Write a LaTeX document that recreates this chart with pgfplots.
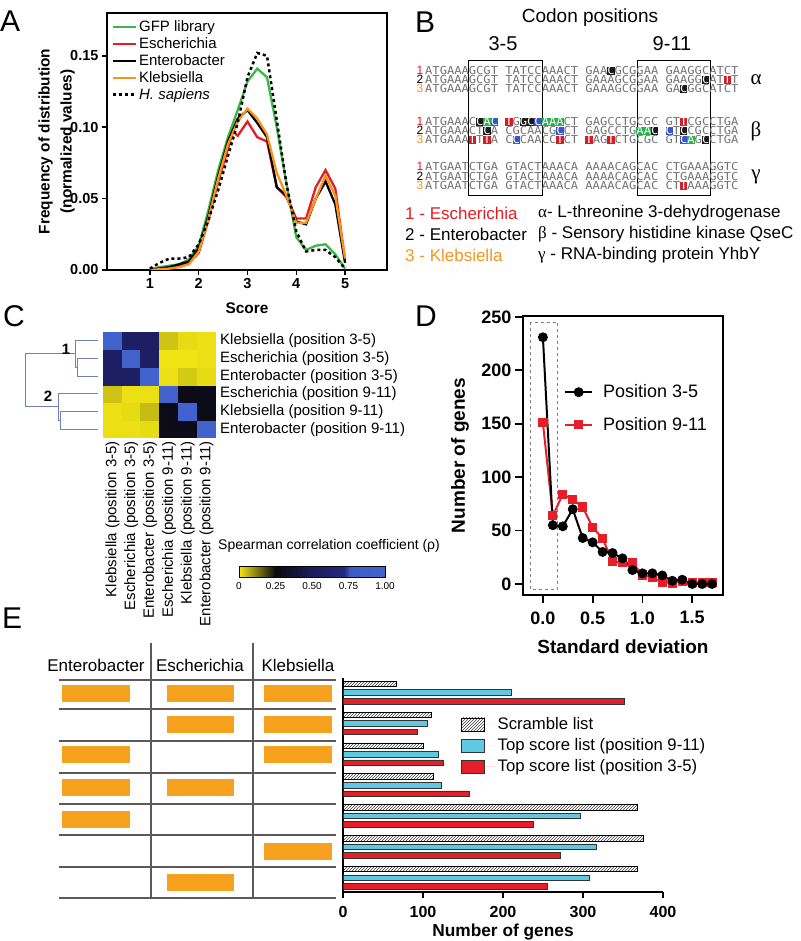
\documentclass[border=0pt]{standalone}
\usepackage{pgfplots}
\pgfplotsset{compat=1.18}
\usepackage{fontspec}
\setmainfont{Liberation Sans}
\newfontfamily\serifgreek{Liberation Serif}
\newfontfamily\seqfont[FakeStretch=1.1]{DejaVu Sans Mono}
\usetikzlibrary{patterns}
\newcommand\fs[2]{\fontsize{#1}{#2}\selectfont}
\definecolor{gfp}{RGB}{61,181,74}
\definecolor{esch}{RGB}{227,30,36}
\definecolor{kleb}{RGB}{247,148,29}
\definecolor{cyanbar}{RGB}{95,200,226}
\definecolor{redbar}{RGB}{230,30,40}
\definecolor{orangebox}{RGB}{247,162,30}
\definecolor{dendro}{RGB}{115,128,180}
\definecolor{seqgray}{RGB}{115,115,115}
\definecolor{hlblack}{RGB}{25,25,25}
\definecolor{hlgreen}{RGB}{40,175,80}
\definecolor{hlblue}{RGB}{55,85,195}
\definecolor{hlred}{RGB}{210,30,40}
\definecolor{tabline}{RGB}{90,90,90}
\newcommand\hl[2]{{\setlength{\fboxsep}{0pt}\colorbox{#1}{\rule[-0.4pt]{0pt}{8.3pt}\textcolor{white}{#2}}}}
\begin{document}
\begin{tikzpicture}
\useasboundingbox (0,0) rectangle (800pt,941pt);

% ---------------- Panel A ----------------
\begin{axis}[at={(107pt,671pt)}, anchor=south west, scale only axis,
  width=280pt, height=257pt,
  xmin=0.12, xmax=5.86, ymin=0, ymax=0.18,
  axis line style={line width=2.2pt},
  xtick={1,2,3,4,5}, ytick={0,0.05,0.1,0.15},
  yticklabels={0.00,0.05,0.10,0.15},
  tick align=outside, xtick pos=bottom, ytick pos=left,
  major tick length=5pt, tick style={line width=1.5pt, black},
  ticklabel style={font=\fs{14.5}{16}\bfseries},
  /pgf/number format/assume math mode=true,
  xlabel={Score}, ylabel={Frequency of distribution\\[3pt](normalized values)},
  label style={font=\fs{15.4}{19}\bfseries, align=center},
  xlabel style={at={(axis description cs:0.5,-0.148)}, anchor=center},
  ylabel style={at={(axis description cs:-0.18,0.5)}, anchor=center},
  legend style={at={(0.005,0.985)}, anchor=north west, draw=none, fill=none,
    font=\fs{15}{17}, row sep=0.5pt},
  legend cell align=left,
  legend image code/.code={\draw[#1] (0pt,0pt) -- (23pt,0pt);},
]
\addplot[gfp, line width=2.3pt] coordinates {(1,0.0005)(1.2,0.002)(1.4,0.003)(1.6,0.004)(1.8,0.0075)(2,0.017)(2.2,0.042)(2.4,0.07)(2.6,0.093)(2.8,0.112)(3,0.132)(3.2,0.141)(3.4,0.135)(3.6,0.1)(3.8,0.06)(4,0.023)(4.2,0.014)(4.4,0.017)(4.6,0.018)(4.8,0.011)(5,0.001)};
\addlegendentry{GFP library}
\addplot[esch, line width=2.3pt] coordinates {(1,0)(1.2,0.001)(1.4,0.002)(1.6,0.003)(1.8,0.005)(2,0.012)(2.2,0.035)(2.4,0.062)(2.6,0.085)(2.7,0.097)(2.8,0.094)(3,0.104)(3.2,0.093)(3.4,0.09)(3.6,0.058)(3.8,0.051)(4,0.036)(4.2,0.036)(4.4,0.058)(4.6,0.07)(4.8,0.057)(5,0.007)};
\addlegendentry{Escherichia}
\addplot[black, line width=2.3pt] coordinates {(1,0)(1.2,0.001)(1.4,0.002)(1.6,0.004)(1.8,0.006)(2,0.015)(2.2,0.038)(2.4,0.066)(2.6,0.09)(2.8,0.106)(3,0.112)(3.2,0.103)(3.4,0.093)(3.6,0.058)(3.8,0.052)(4,0.034)(4.2,0.032)(4.4,0.05)(4.6,0.062)(4.8,0.046)(5,0.005)};
\addlegendentry{Enterobacter}
\addplot[kleb, line width=2.3pt] coordinates {(1,0)(1.2,0.0005)(1.4,0.001)(1.6,0.002)(1.8,0.004)(2,0.013)(2.2,0.036)(2.4,0.064)(2.6,0.088)(2.8,0.104)(3,0.113)(3.2,0.106)(3.4,0.095)(3.6,0.068)(3.8,0.052)(4,0.033)(4.2,0.033)(4.4,0.05)(4.6,0.066)(4.8,0.052)(5,0.008)};
\addlegendentry{Klebsiella}
\addplot[black, line width=2.5pt, dash pattern=on 3pt off 3pt] coordinates {(1,0.001)(1.2,0.005)(1.4,0.008)(1.6,0.008)(1.8,0.009)(2,0.018)(2.2,0.035)(2.4,0.056)(2.6,0.08)(2.8,0.103)(3,0.135)(3.2,0.152)(3.4,0.15)(3.6,0.105)(3.8,0.06)(4,0.027)(4.2,0.013)(4.4,0.014)(4.6,0.014)(4.8,0.009)(5,0.001)};
\addlegendentry{\itshape H. sapiens}
\end{axis}

% ---------------- Panel C heatmap ----------------
\begin{axis}[at={(103pt,503pt)}, anchor=south west, scale only axis,
  width=113pt, height=106pt,
  xmin=-0.5, xmax=5.5, ymin=-0.5, ymax=5.5, hide axis,
  colormap={spear}{rgb255(0cm)=(245,232,20); rgb255(25cm)=(10,10,15); rgb255(50cm)=(28,28,92); rgb255(72cm)=(35,42,125); rgb255(76cm)=(62,92,200); rgb255(100cm)=(66,98,206)},
  point meta min=0, point meta max=1,
  colorbar horizontal,
  colorbar style={at={(parent axis.south west)}, anchor=north west,
    xshift=136pt, yshift=-120pt,
    scale only axis, width=146pt, height=11pt,
    xtick={0,0.25,0.5,0.75,1}, xticklabels={0,0.25,0.50,0.75,1.00},
    xticklabel style={font=\fs{10}{12}, yshift=-1pt}, major tick length=0pt,
    axis line style={line width=1pt}},
]
\addplot[matrix plot*, mesh/cols=6, point meta=explicit] table[meta=c] {
x y c
0 0 0.01
1 0 0.01
2 0 0.015
3 0 0.28
4 0 0.28
5 0 1
0 1 0.01
1 1 0.015
2 1 0.05
3 1 0.28
4 1 1
5 1 0.28
0 2 0.04
1 2 0.01
2 2 0.01
3 2 1
4 2 0.28
5 2 0.28
0 3 0.55
1 3 0.55
2 3 1
3 3 0.01
4 3 0.035
5 3 0.015
0 4 0.55
1 4 1
2 4 0.55
3 4 0.005
4 4 0.005
5 4 0.01
0 5 1
1 5 0.55
2 5 0.55
3 5 0.04
4 5 0.015
5 5 0.01
};
\end{axis}

% ---------------- Panel D ----------------
\begin{axis}[at={(523pt,346pt)}, anchor=south west, scale only axis,
  width=200pt, height=279pt,
  xmin=-0.2, xmax=1.81, ymin=-10.3, ymax=250.9,
  axis line style={line width=2.4pt},
  xtick={0,0.5,1,1.5}, xticklabels={0.0,0.5,1.0,1.5},
  ytick={0,50,100,150,200,250},
  tick align=outside, xtick pos=bottom, ytick pos=left,
  major tick length=8pt, tick style={line width=1.8pt, black},
  ticklabel style={font=\fs{18}{20}\bfseries},
  xticklabel style={yshift=-5pt},
  /pgf/number format/assume math mode=true,
  xlabel={Standard deviation}, ylabel={Number of genes},
  label style={font=\fs{19}{22}\bfseries},
  xlabel style={at={(axis description cs:0.5,-0.186)}, anchor=center},
  ylabel style={at={(axis description cs:-0.315,0.5)}, anchor=center},
  legend style={at={(0.19,0.768)}, anchor=north west, draw=none, fill=none,
    font=\fs{18}{21}, row sep=14pt},
  legend cell align=left, reverse legend,
  legend image code/.code={\draw[mark repeat=2, mark phase=2, #1] plot coordinates {(0pt,0pt) (13.5pt,0pt) (27pt,0pt)}; \path[draw=none] (0pt,0pt) -- (36pt,0pt);},
]
\draw[gray, dashed, line width=0.8pt] (axis cs:-0.13,245) rectangle (axis cs:0.15,-5);
\addplot[redbar, line width=2pt, mark=square*, mark size=3.6pt] coordinates {(0,151)(0.1,64)(0.2,84)(0.3,79)(0.4,72)(0.5,53)(0.6,42.5)(0.7,21)(0.8,20)(0.9,20)(1.0,8.5)(1.1,6)(1.2,1.5)(1.3,1)(1.4,2.5)(1.5,1.5)(1.6,1.5)(1.7,1.5)};
\addlegendentry{Position 9-11}
\addplot[black, line width=2pt, mark=*, mark size=3.9pt] coordinates {(0,231)(0.1,55)(0.2,54)(0.3,70)(0.4,43)(0.5,39)(0.6,30)(0.7,29)(0.8,24)(0.9,13)(1.0,10)(1.1,10)(1.2,8)(1.3,3)(1.4,4)(1.5,0)(1.6,0)(1.7,0)};
\addlegendentry{Position 3-5}
\end{axis}

% ---------------- Panel E bars ----------------
\begin{axis}[at={(343pt,49pt)}, anchor=south west, scale only axis,
  width=320pt, height=214pt,
  xmin=0, xmax=400, ymin=0.53, ymax=7.47,
  axis x line=bottom, axis y line=left, axis line style={line width=2.4pt, -},
  xtick={0,100,200,300,400}, ytick=\empty,
  tick align=outside, major tick length=6pt, tick style={line width=1.8pt, black},
  ticklabel style={font=\fs{16}{18}\bfseries},
  xticklabel style={yshift=-5pt},
  /pgf/number format/assume math mode=true,
  xlabel={Number of genes}, label style={font=\fs{17.3}{20}\bfseries},
  xlabel style={at={(axis description cs:0.5,-0.187)}, anchor=center},
  xbar, bar width=5.5pt, bar shift=0pt,
  legend style={at={(0.36,0.835)}, anchor=north west, draw=none, fill=none,
    font=\fs{16.7}{20}, row sep=3.5pt},
  legend cell align=left,
  legend image code/.code={\draw[#1] (0pt,-6.5pt) rectangle (23pt,6.5pt); \path[draw=none] (0pt,0pt) -- (34pt,0pt);},
]
\addplot[draw=black, line width=0.5pt, pattern=north east lines, pattern color=black!75] coordinates {(66,7.276)(110,6.276)(100,5.276)(113,4.276)(368,3.276)(375,2.276)(368,1.276)};
\addlegendentry{Scramble list}
\addplot[draw=black!80, line width=0.5pt, fill=cyanbar] coordinates {(210,7)(105,6)(119,5)(123,4)(296,3)(317,2)(307.5,1)};
\addlegendentry{Top score list (position 9-11)}
\addplot[draw=black!80, line width=0.5pt, fill=redbar] coordinates {(352,6.724)(92.5,5.724)(125,4.724)(157.5,3.724)(237.5,2.724)(271,1.724)(255,0.724)};
\addlegendentry{Top score list (position 3-5)}
\end{axis}

% ---------------- annotations in image coordinates ----------------
\begin{scope}[yshift=941pt, x=1pt, y=-1pt]
% panel letters
\foreach \L/\xx/\yy in {A/0/21, B/415/22, C/3/316, D/415/316, E/2/618}
  \node[anchor=west, inner sep=0pt, font=\fs{30}{34}] at (\xx,\yy) {\L};

% ---- Panel B ----
\node[font=\fs{19}{22}] at (590,18) {Codon positions};
\node[font=\fs{20}{22}] at (503,44) {3-5};
\node[font=\fs{20}{22}] at (672,44) {9-11};
\draw[line width=1pt] (468,61) rectangle (542,196);
\draw[line width=1pt] (637,61) rectangle (710,196);
\tikzset{seq/.style={anchor=base west, inner sep=0pt, font=\seqfont\fs{11}{11}, text=seqgray},
  num/.style={anchor=base east, inner sep=0pt, font=\fs{12}{12}}}
% alpha
\node[num, text=esch] at (423.5,75) {1};
\node[num, text=black] at (423.5,84) {2};
\node[num, text=kleb] at (423.5,93) {3};
\node[seq] at (425,75) {ATGAAAGCGT TATCCAAACT GAA\hl{hlblack}{C}GCGGAA GAAGGCATCT};
\node[seq] at (425,84) {ATGAAAGCGT TATCCAAACT GAAAGCGGAA GAAGG\hl{hlblack}{C}AT\hl{hlred}{T}T};
\node[seq] at (425,93) {ATGAAAGCGT TATCCAAACT GAAAGCGGAA GA\hl{hlblack}{C}GGCATCT};
% beta
\node[num, text=esch] at (423.5,126) {1};
\node[num, text=black] at (423.5,135) {2};
\node[num, text=kleb] at (423.5,144) {3};
\node[seq] at (425,126) {ATGAAAC\hl{hlblack}{C}\hl{hlgreen}{A}\hl{hlblue}{C} \hl{hlred}{T}G\hl{hlblack}{GC}\hl{hlblue}{C}\hl{hlgreen}{AAA}CT GAGCCTGCGC GT\hl{hlred}{T}CGCCTGA};
\node[seq] at (425,135) {ATGAAACT\hl{hlblack}{C}A CGCAACG\hl{hlblue}{C}CT GAGCCTG\hl{hlgreen}{AA}\hl{hlblack}{C} \hl{hlblue}{C}T\hl{hlblack}{C}CGCCTGA};
\node[seq] at (425,144) {ATGAAA\hl{hlred}{T}T\hl{hlred}{T}A C\hl{hlblue}{C}CAACC\hl{hlred}{T}CT \hl{hlred}{T}AG\hl{hlred}{T}CTGCGC GT\hl{hlblue}{C}\hl{hlgreen}{A}G\hl{hlblack}{C}CTGA};
% gamma
\node[num, text=esch] at (423.5,171) {1};
\node[num, text=black] at (423.5,181) {2};
\node[num, text=kleb] at (423.5,190) {3};
\node[seq] at (425,171) {ATGAATCTGA GTACTAAACA AAAACAGCAC CTGAAAGGTC};
\node[seq] at (425,181) {ATGAATCTGA GTACTAAACA AAAACAGCAC CTGAAAGGTC};
\node[seq] at (425,190) {ATGAATCTGA GTACTAAACA AAAACAGCAC CT\hl{hlred}{T}AAAGGTC};
\node[font=\serifgreek\fs{21}{22}] at (756,80) {α};
\node[font=\serifgreek\fs{21}{22}] at (756,131) {β};
\node[font=\serifgreek\fs{21}{22}] at (756,177) {γ};
% legend of B
\node[anchor=west, inner sep=0pt, font=\fs{17}{20}, text=esch] at (405,213) {1 - Escherichia};
\node[anchor=west, inner sep=0pt, font=\fs{17}{20}, text=black] at (405,234) {2 - Enterobacter};
\node[anchor=west, inner sep=0pt, font=\fs{17}{20}, text=kleb] at (405,255) {3 - Klebsiella};
\node[anchor=west, inner sep=0pt, font=\fs{17}{20}] at (538,213) {{\serifgreek α}- L-threonine 3-dehydrogenase};
\node[anchor=west, inner sep=0pt, font=\fs{17}{20}] at (538,234) {{\serifgreek β} - Sensory histidine kinase QseC};
\node[anchor=west, inner sep=0pt, font=\fs{17}{20}] at (538,255) {{\serifgreek γ} - RNA-binding protein YhbY};

% ---- Panel C ----
\begin{scope}[dendro, line width=1pt]
\draw (98,340.8) -- (75,340.8) -- (75,367.3) -- (77,367.3);
\draw (98,358.5) -- (77,358.5) -- (77,376.2) -- (98,376.2);
\draw (98,393.8) -- (58,393.8) -- (58,420.3) -- (60,420.3);
\draw (98,411.5) -- (60,411.5) -- (60,429.2) -- (98,429.2);
\draw (75,354) -- (25,354) -- (25,407) -- (58,407);
\end{scope}
\node[font=\fs{15}{17}\bfseries] at (66,349) {1};
\node[font=\fs{15}{17}\bfseries] at (48,396) {2};
\foreach \t [count=\i from 0] in {Klebsiella (position 3-5), Escherichia (position 3-5), Enterobacter (position 3-5), Escherichia (position 9-11), Klebsiella (position 9-11), Enterobacter (position 9-11)} {
  \node[anchor=west, inner sep=0pt, font=\fs{15}{17}] at (220,{340.8+17.67*\i}) {\t};
  \node[anchor=east, inner sep=0pt, rotate=90, font=\fs{15}{17}] at ({112.4+18.83*\i},441) {\t};
}
\node[anchor=west, inner sep=0pt, font=\fs{14}{16}] at (218,546) {Spearman correlation coefficient (ρ)};

% ---- Panel E table ----
\node[font=\fs{17}{20}] at (96,665) {Enterobacter};
\node[font=\fs{17}{20}] at (200,665) {Escherichia};
\node[font=\fs{17}{20}] at (298,665) {Klebsiella};
\foreach \yy in {680,709,741,773,804,835,867,898}
  \draw[tabline, line width=1.2pt] (59,\yy) -- (336,\yy);
\draw[tabline, line width=1.2pt] (151,643) -- (151,898);
\draw[tabline, line width=1.2pt] (253,643) -- (253,898);
\foreach \cy/\cols in {693.5/{1,2,3}, 725/{2,3}, 755/{1,3}, 787.5/{1,2}, 819.5/{1}, 851.5/{3}, 883/{2}} {
  \foreach \c in \cols {
    \ifnum\c=1 \fill[orangebox] (62,\cy-8.5) rectangle (130,\cy+8.5); \fi
    \ifnum\c=2 \fill[orangebox] (167,\cy-8.5) rectangle (234,\cy+8.5); \fi
    \ifnum\c=3 \fill[orangebox] (264,\cy-8.5) rectangle (332,\cy+8.5); \fi
  }
}
\end{scope}
\end{tikzpicture}
\end{document}
